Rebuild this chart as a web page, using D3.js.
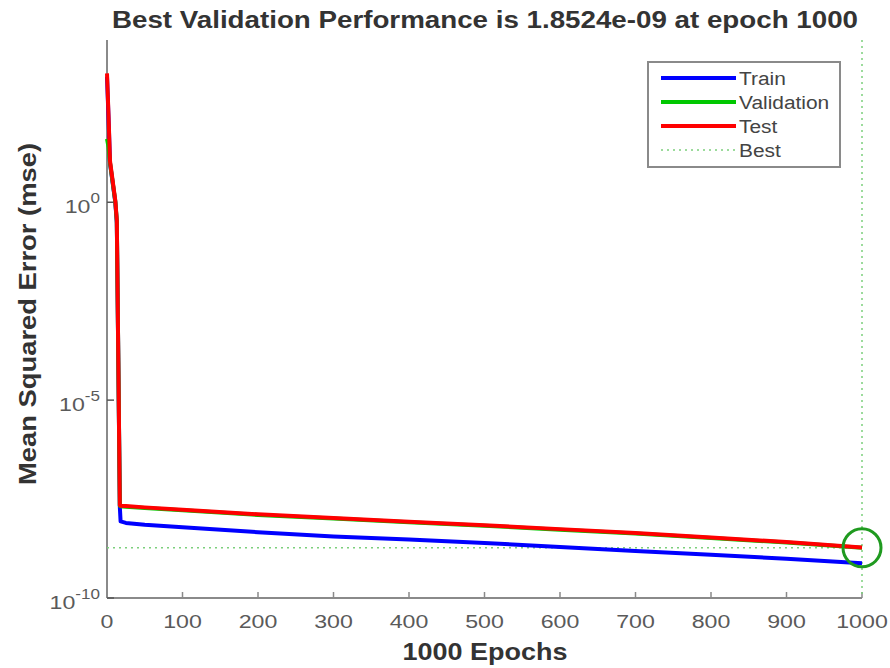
<!DOCTYPE html>
<html lang="en">
<head>
<meta charset="utf-8">
<title>Best Validation Performance</title>
<script src="https://d3js.org/d3.v7.min.js"></script>
<style>
  body { margin: 0; background: #fff; }
  text { font-family: "Liberation Sans", Arial, sans-serif; }
  .tick { fill: #5a5a5a; font-size: 19px; }
  .lab { fill: #333; font-weight: bold; }
  .leg { fill: #444; font-size: 19px; }
</style>
</head>
<body>
<div id="chart"></div>
<script>
// data
var epochs     = [0, 2, 4, 11, 13, 15, 17, 18, 25, 50, 100, 200, 300, 400, 500, 600, 700, 800, 900, 1000];
var train      = [1.5e3, 1.4e2, 9.5, 1.0, 3.0e-1, 9e-5, 2.0e-8, 8.6e-9, 7.9e-9, 7.1e-9, 6.1e-9, 4.6e-9, 3.6e-9, 3.0e-9, 2.45e-9, 1.95e-9, 1.55e-9, 1.23e-9, 9.8e-10, 7.6e-10];
var validation = [4.0e1, 2.5e1, 1.0e1, 1.05, 3.4e-1, 9.5e-5, 2.12e-8, 2.08e-8, 2.03e-8, 1.89e-8, 1.65e-8, 1.26e-8, 1.02e-8, 8.2e-9, 6.7e-9, 5.3e-9, 4.25e-9, 3.3e-9, 2.52e-9, 1.8524e-9];
var test       = [1.8e3, 1.6e2, 1.1e1, 1.1, 3.5e-1, 1e-4, 2.2e-8, 2.15e-8, 2.1e-8, 1.95e-8, 1.7e-8, 1.3e-8, 1.05e-8, 8.5e-9, 6.9e-9, 5.5e-9, 4.4e-9, 3.4e-9, 2.6e-9, 1.9e-9];
var bestEpoch = 1000;
var bestValue = 1.8524e-9;
var xTicks = [0, 100, 200, 300, 400, 500, 600, 700, 800, 900, 1000];
var yTickExp = [0, -5, -10];
var seriesNames = ["Train", "Validation", "Test", "Best"];

var w = 890, h = 668;
var svg = d3.select("#chart").append("svg").attr("width", w).attr("height", h);

var x = d3.scaleLinear().domain([0, 1000]).range([107, 862]);
var y = d3.scaleLog().domain([1e-10, Math.pow(10, 4.1)]).range([598, 40]);

var axisColor = "#8a8a8a";
var sx = 1.22; // the picture is a bit wider than tall

// axes lines (box off)
svg.append("line").attr("x1", x(0)).attr("x2", x(1000)).attr("y1", 598).attr("y2", 598)
  .attr("stroke", axisColor).attr("stroke-width", 2);
svg.append("line").attr("x1", x(0)).attr("x2", x(0)).attr("y1", 40).attr("y2", 598)
  .attr("stroke", axisColor).attr("stroke-width", 2);

// x ticks (inward)
svg.selectAll(".xt").data(xTicks).enter().append("line")
  .attr("x1", function(d) { return x(d); }).attr("x2", function(d) { return x(d); })
  .attr("y1", 598).attr("y2", 592).attr("stroke", axisColor).attr("stroke-width", 1.5);
svg.selectAll(".xl").data(xTicks).enter().append("text")
  .attr("class", "tick").attr("text-anchor", "middle")
  .attr("transform", function(d) { return "translate(" + x(d) + ",628) scale(" + sx + ",1)"; })
  .text(function(d) { return d; });

// y ticks
svg.selectAll(".yt").data(yTickExp).enter().append("line")
  .attr("x1", x(0)).attr("x2", x(0) + 7)
  .attr("y1", function(d) { return y(Math.pow(10, d)); })
  .attr("y2", function(d) { return y(Math.pow(10, d)); })
  .attr("stroke", "#555").attr("stroke-width", 1.5);
var yl = svg.selectAll(".yl").data(yTickExp).enter().append("text")
  .attr("class", "tick").attr("text-anchor", "end")
  .attr("transform", function(d) { return "translate(100," + (y(Math.pow(10, d)) + 11) + ") scale(" + sx + ",1)"; });
yl.append("tspan").text("10");
yl.append("tspan").attr("dy", -10).style("font-size", "14px").text(function(d) { return d; });

// best guides
var bestCol = "#7ccf7c";
svg.append("line").attr("x1", x(bestEpoch)).attr("x2", x(bestEpoch)).attr("y1", 40).attr("y2", 598)
  .attr("stroke", bestCol).attr("stroke-width", 1.5).attr("stroke-dasharray", "2,4");
svg.append("line").attr("x1", x(0)).attr("x2", x(bestEpoch)).attr("y1", y(bestValue)).attr("y2", y(bestValue))
  .attr("stroke", bestCol).attr("stroke-width", 1.5).attr("stroke-dasharray", "2,4");

// curves
var line = d3.line().x(function(d) { return x(d[0]); }).y(function(d) { return y(d[1]); });
var series = [
  { vals: train, col: "#0000ff" },
  { vals: validation, col: "#00c800" },
  { vals: test, col: "#ff0000" }
];
series.forEach(function(s) {
  svg.append("path")
    .datum(epochs.map(function(e, i) { return [e, s.vals[i]]; }))
    .attr("d", line).attr("fill", "none")
    .attr("stroke", s.col).attr("stroke-width", 4)
    .attr("stroke-linejoin", "round");
});

// best circle
svg.append("circle").attr("cx", x(bestEpoch)).attr("cy", y(bestValue)).attr("r", 19)
  .attr("fill", "none").attr("stroke", "#1f9a1f").attr("stroke-width", 3);

// title & labels
svg.append("text").attr("class", "lab").attr("x", 485).attr("y", 28)
  .attr("text-anchor", "middle").style("font-size", "23px")
  .attr("textLength", 746).attr("lengthAdjust", "spacingAndGlyphs")
  .text("Best Validation Performance is " + bestValue.toExponential(4).replace("e-", "e-0") + " at epoch " + bestEpoch);
svg.append("text").attr("class", "lab").attr("x", 485).attr("y", 660)
  .attr("text-anchor", "middle").style("font-size", "24px")
  .attr("textLength", 165).attr("lengthAdjust", "spacingAndGlyphs")
  .text("1000 Epochs");
svg.append("text").attr("class", "lab")
  .attr("transform", "translate(36,314) rotate(-90)")
  .attr("text-anchor", "middle").style("font-size", "24px")
  .attr("textLength", 342).attr("lengthAdjust", "spacingAndGlyphs")
  .text("Mean Squared Error  (mse)");

// legend
var legend = svg.append("g");
legend.append("rect").attr("x", 648).attr("y", 62).attr("width", 192).attr("height", 105)
  .attr("fill", "#fff").attr("stroke", axisColor).attr("stroke-width", 2);
var legCols = ["#0000ff", "#00c800", "#ff0000", bestCol];
seriesNames.forEach(function(n, i) {
  var ly = 78 + i * 24;
  legend.append("line").attr("x1", 661).attr("x2", 736).attr("y1", ly).attr("y2", ly)
    .attr("stroke", legCols[i]).attr("stroke-width", i < 3 ? 4 : 1.5)
    .attr("stroke-dasharray", i < 3 ? null : "2,4");
  legend.append("text").attr("class", "leg")
    .attr("transform", "translate(739," + (ly + 7) + ") scale(1.1,1)").text(n);
});
</script>
</body>
</html>
